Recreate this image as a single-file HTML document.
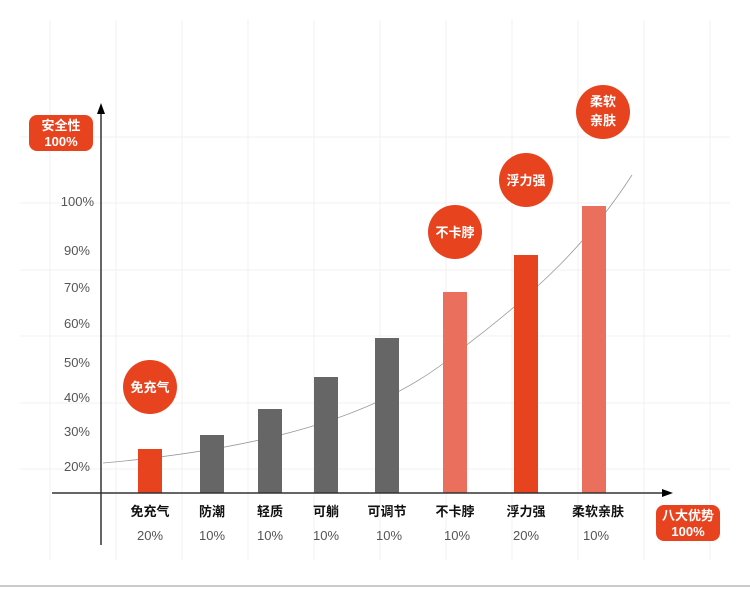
<!DOCTYPE html>
<html><head><meta charset="utf-8"><style>
body{margin:0;background:#fff}
svg text{font-family:"Liberation Sans","Noto Sans CJK SC",sans-serif}
</style></head><body>
<svg width="750" height="610" xmlns="http://www.w3.org/2000/svg">
<g stroke="#f1f1f1" stroke-width="1">
<line x1="20" y1="137" x2="730" y2="137"/><line x1="20" y1="203" x2="730" y2="203"/>
<line x1="20" y1="270" x2="730" y2="270"/><line x1="20" y1="336" x2="730" y2="336"/>
<line x1="20" y1="403" x2="730" y2="403"/><line x1="20" y1="469" x2="730" y2="469"/>
<line x1="50" y1="20" x2="50" y2="560"/><line x1="116" y1="20" x2="116" y2="560"/>
<line x1="182" y1="20" x2="182" y2="560"/><line x1="248" y1="20" x2="248" y2="560"/>
<line x1="314" y1="20" x2="314" y2="560"/><line x1="380" y1="20" x2="380" y2="560"/>
<line x1="446" y1="20" x2="446" y2="560"/><line x1="512" y1="20" x2="512" y2="560"/>
<line x1="578" y1="20" x2="578" y2="560"/><line x1="644" y1="20" x2="644" y2="560"/>
<line x1="710" y1="20" x2="710" y2="560"/>
</g>
<line x1="0" y1="586" x2="750" y2="586" stroke="#aaa" stroke-width="1.2"/>
<path d="M103,463 C250,450 380,420 460,350 C540,290 590,240 632,175" fill="none" stroke="#999" stroke-width="0.8"/>
<g>
<rect x="138" y="449" width="24" height="44" fill="#e8431f"/>
<rect x="200" y="435" width="24" height="58" fill="#666"/>
<rect x="258" y="409" width="24" height="84" fill="#666"/>
<rect x="314" y="377" width="24" height="116" fill="#666"/>
<rect x="375" y="338" width="24" height="155" fill="#666"/>
<rect x="443" y="292" width="24" height="201" fill="#ea6f5c"/>
<rect x="514" y="255" width="24" height="238" fill="#e8431f"/>
<rect x="582" y="206" width="24" height="287" fill="#ea6f5c"/>
</g>
<line x1="101" y1="110" x2="101" y2="545" stroke="#333" stroke-width="1.5"/>
<polygon points="101,103 97,114 105,114" fill="#000"/>
<line x1="52" y1="493" x2="665" y2="493" stroke="#333" stroke-width="1.5"/>
<polygon points="673,493 662,489 662,497" fill="#000"/>
<g font-size="13" fill="#555" text-anchor="end">
<text x="94" y="206">100%</text><text x="90" y="255">90%</text><text x="90" y="292">70%</text>
<text x="90" y="328">60%</text><text x="90" y="367">50%</text><text x="90" y="402">40%</text>
<text x="90" y="436">30%</text><text x="90" y="471">20%</text>
</g>
<g font-size="13" fill="#111" text-anchor="middle" font-weight="bold">
<text x="150" y="516">免充气</text><text x="212" y="516">防潮</text><text x="270" y="516">轻质</text>
<text x="326" y="516">可躺</text><text x="387" y="516">可调节</text><text x="455" y="516">不卡脖</text>
<text x="526" y="516">浮力强</text><text x="598" y="516">柔软亲肤</text>
</g>
<g font-size="13" fill="#555" text-anchor="middle">
<text x="150" y="540">20%</text><text x="212" y="540">10%</text><text x="270" y="540">10%</text>
<text x="326" y="540">10%</text><text x="389" y="540">10%</text><text x="457" y="540">10%</text>
<text x="526" y="540">20%</text><text x="596" y="540">10%</text>
</g>
<g fill="#e8431f">
<circle cx="150" cy="387" r="27"/><circle cx="455" cy="232" r="27"/>
<circle cx="526" cy="180" r="27"/><circle cx="603" cy="112" r="27"/>
<rect x="29" y="115" width="64" height="36" rx="8"/>
<rect x="656" y="505" width="64" height="36" rx="8"/>
</g>
<g font-size="13" fill="#fff" text-anchor="middle" font-weight="bold">
<text x="150" y="392">免充气</text><text x="455" y="237">不卡脖</text><text x="526" y="185">浮力强</text>
<text x="603" y="106">柔软</text><text x="603" y="125">亲肤</text>
<text x="61" y="130">安全性</text><text x="61" y="146">100%</text>
<text x="688" y="520">八大优势</text><text x="688" y="536">100%</text>
</g>
</svg>
</body></html>
